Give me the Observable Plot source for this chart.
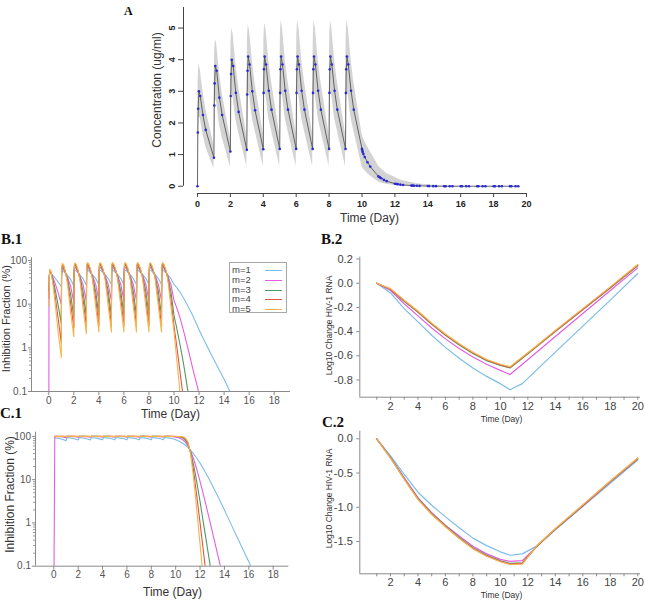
<!DOCTYPE html>
<html>
<head>
<meta charset="utf-8">
<script src="https://cdn.jsdelivr.net/npm/d3@7"></script>
<script src="https://cdn.jsdelivr.net/npm/@observablehq/plot@0.6"></script>
<style>
  body { margin: 0; background: #fff; }
  #fig { position: relative; width: 645px; height: 604px; overflow: hidden; background: #fff;
         font-family: "Liberation Sans", Arial, sans-serif; }
  #fig > svg { position: absolute; }
  .tag { position: absolute; font-family: "Liberation Serif", "Times New Roman", serif; font-weight: bold; line-height: 1; white-space: nowrap; color: #111; }
  .legend { position: absolute; border: 1px solid #a8a8a8; background: #fff; box-sizing: border-box; }
  .legend .row { position: absolute; left: 2px; height: 10px; width: 54px; font-size: 9.5px; line-height: 10px; color: #444; }
  .legend .swatch { position: absolute; left: 33px; top: 5px; width: 17px; height: 0; border-top: 1.3px solid; }
</style>
</head>
<body>
<div id="fig"></div>
<script>
// ---------- Panel A: concentration, median with 90% band ----------
const aTime = [
  0,0.021,0.042,0.083,0.167,0.333,0.5,
  1,1.021,1.042,1.083,1.167,1.333,1.5,
  2,2.021,2.042,2.083,2.167,2.333,2.5,
  3,3.021,3.042,3.083,3.167,3.333,3.5,
  4,4.021,4.042,4.083,4.167,4.333,4.5,
  5,5.021,5.042,5.083,5.167,5.333,5.5,
  6,6.021,6.042,6.083,6.167,6.333,6.5,
  7,7.021,7.042,7.083,7.167,7.333,7.5,
  8,8.021,8.042,8.083,8.167,8.333,8.5,
  9,9.021,9.042,9.083,9.167,9.333,9.5,
  10,10.021,10.042,10.083,10.167,10.333,10.5,
  11,11.083,11.167,11.333,11.5,
  12,12.083,12.167,12.333,12.5,
  13,13.083,13.167,13.333,13.5,
  14,14.083,14.333,14.5,
  15,15.083,15.333,15.5,
  16,16.083,16.333,16.5,
  17,17.083,17.333,17.5,
  18,18.083,18.333,18.5,
  19,19.083,19.333,19.5
];
const aMedian = [
  0,1.70,2.45,3.00,2.85,2.25,1.78,
  0.90,2.55,3.25,3.80,3.65,2.80,2.25,
  1.10,2.85,3.55,4.00,3.80,2.95,2.35,
  1.15,2.90,3.65,4.10,3.85,3.00,2.40,
  1.17,2.95,3.70,4.10,3.85,3.02,2.42,
  1.18,2.95,3.70,4.10,3.85,3.02,2.42,
  1.18,2.95,3.70,4.10,3.85,3.02,2.42,
  1.18,2.95,3.70,4.10,3.85,3.02,2.42,
  1.18,2.95,3.70,4.10,3.85,3.02,2.42,
  1.18,2.95,3.70,4.10,3.85,3.02,2.42,
  1.18,1.13,1.08,1.02,0.92,0.76,0.62,
  0.31,0.28,0.25,0.20,0.16,
  0.08,0.07,0.065,0.05,0.04,
  0.02,0.018,0.016,0.013,0.01,
  0.005,0.004,0.003,0.002,
  0.001,0.001,0.001,0.001,
  0,0,0,0,
  0,0,0,0,
  0,0,0,0,
  0,0,0,0
];
const aLower = [
  0,0.9,1.6,2.2,2.15,1.65,1.25,
  0.55,1.6,2.2,2.75,2.65,1.95,1.55,
  0.6,1.8,2.5,2.95,2.8,2.1,1.7,
  0.62,1.85,2.55,3.0,2.85,2.15,1.75,
  0.62,1.9,2.6,3.0,2.85,2.15,1.75,
  0.62,1.9,2.6,3.0,2.85,2.15,1.75,
  0.62,1.9,2.6,3.0,2.85,2.15,1.75,
  0.62,1.9,2.6,3.0,2.85,2.15,1.75,
  0.62,1.9,2.6,3.0,2.85,2.15,1.75,
  0.62,1.9,2.6,3.0,2.85,2.15,1.75,
  0.62,0.6,0.58,0.55,0.5,0.4,0.32,
  0.13,0.12,0.1,0.08,0.06,
  0.025,0.02,0.018,0.014,0.01,
  0.005,0.004,0.003,0.002,0.002,
  0,0,0,0,
  0,0,0,0,
  0,0,0,0,
  0,0,0,0,
  0,0,0,0,
  0,0,0,0
];
const aUpper = [
  0,2.6,3.4,3.85,3.7,3.0,2.45,
  1.3,3.5,4.25,4.65,4.5,3.6,2.95,
  1.5,3.75,4.6,5.0,4.8,3.85,3.15,
  1.6,3.85,4.7,5.1,4.9,3.95,3.25,
  1.65,3.9,4.75,5.15,4.95,4.0,3.3,
  1.65,3.9,4.8,5.25,5.0,4.0,3.3,
  1.65,3.9,4.8,5.25,5.0,4.0,3.3,
  1.65,3.9,4.8,5.25,5.0,4.0,3.3,
  1.65,3.9,4.8,5.25,5.0,4.0,3.3,
  1.65,3.9,4.8,5.25,5.0,4.0,3.3,
  1.65,1.6,1.58,1.52,1.42,1.25,1.1,
  0.65,0.6,0.55,0.47,0.4,
  0.28,0.26,0.24,0.2,0.17,
  0.12,0.11,0.1,0.08,0.07,
  0.045,0.04,0.03,0.025,
  0.015,0.012,0.01,0.008,
  0.006,0.005,0.004,0.003,
  0.002,0.002,0.001,0.001,
  0.001,0,0,0,
  0,0,0,0
];
const aXTicks = [0,2,4,6,8,10,12,14,16,18,20];
const aYTicks = [0,1,2,3,4,5];

// ---------- Shared series styling ----------
const seriesNames = ["m=1","m=2","m=3","m=4","m=5"];
const seriesColors = ["#7dbde8","#e35fe0","#4f9a62","#e0574a","#f6b44a"];

// ---------- Panel B.1: inhibition fraction (%) ----------
const b1Time = [
  0,0.021,0.042,0.083,0.167,0.333,0.5,0.75,
  1,1.021,1.042,1.083,1.167,1.333,1.5,1.75,
  2,2.021,2.042,2.083,2.167,2.333,2.5,2.75,
  3,3.021,3.042,3.083,3.167,3.333,3.5,3.75,
  4,4.021,4.042,4.083,4.167,4.333,4.5,4.75,
  5,5.021,5.042,5.083,5.167,5.333,5.5,5.75,
  6,6.021,6.042,6.083,6.167,6.333,6.5,6.75,
  7,7.021,7.042,7.083,7.167,7.333,7.5,7.75,
  8,8.021,8.042,8.083,8.167,8.333,8.5,8.75,
  9,9.021,9.042,9.083,9.167,9.333,9.5,9.75,
  10,10.083,10.167,10.333,10.5,10.75,11,11.25,11.5,12,12.5,13,13.5,14,14.5,15
];
const b1M1 = [
  null,38.6,47.6,52.6,51.4,45.5,39.7,32.0,
  25,48.6,54.6,58.5,57.5,50.9,45.5,36.8,
  26,51.4,56.8,59.7,58.5,52.2,46.5,37.8,
  27,51.8,57.5,60.3,58.8,52.6,47.1,38.4,
  28,52.2,57.8,60.3,58.8,52.8,47.3,38.5,
  28,52.2,57.8,60.3,58.8,52.8,47.3,38.5,
  28,52.2,57.8,60.3,58.8,52.8,47.3,38.5,
  28,52.2,57.8,60.3,58.8,52.8,47.3,38.5,
  28,52.2,57.8,60.3,58.8,52.8,47.3,38.5,
  28,52.2,57.8,60.3,58.8,52.8,47.3,38.5,
  28,26.5,25,21.5,18.5,14,10.3,7.5,5.4,2.6,1.3,0.68,0.36,0.19,0.095,0.05
];
const b1M2 = [
  0.01,28.4,45.2,55.2,52.7,41.0,30.3,18.1,
  10,47.1,59.2,66.5,64.6,51.8,41.0,25.3,
  11,52.7,63.4,68.7,66.5,54.4,43.1,27.0,
  11.5,53.6,64.6,69.8,67.0,55.2,44.1,27.9,
  12,54.4,65.3,69.8,67.0,55.6,44.6,28.2,
  12,54.4,65.3,69.8,67.0,55.6,44.6,28.2,
  12,54.4,65.3,69.8,67.0,55.6,44.6,28.2,
  12,54.4,65.3,69.8,67.0,55.6,44.6,28.2,
  12,54.4,65.3,69.8,67.0,55.6,44.6,28.2,
  12,54.4,65.3,69.8,67.0,55.6,44.6,28.2,
  12,10.5,9.0,6.6,4.6,2.5,1.3,0.66,0.33,0.09,0.022,null,null,null,null,null
];
const b1M3 = [
  null,20.0,42.8,57.8,54.1,36.7,22.3,9.4,
  3.6,45.7,63.6,73.6,71.2,52.7,36.7,16.4,
  5.0,54.1,69.4,76.5,73.6,56.6,39.7,18.3,
  5.3,55.3,71.2,77.8,74.4,57.8,41.3,19.4,
  5.5,56.6,72.0,77.8,74.4,58.3,41.9,19.7,
  5.5,56.6,72.0,77.8,74.4,58.3,41.9,19.7,
  5.5,56.6,72.0,77.8,74.4,58.3,41.9,19.7,
  5.5,56.6,72.0,77.8,74.4,58.3,41.9,19.7,
  5.5,56.6,72.0,77.8,74.4,58.3,41.9,19.7,
  5.5,56.6,72.0,77.8,74.4,58.3,41.9,19.7,
  5.5,4.2,3.3,1.9,1.1,0.45,0.16,0.055,null,null,null,null,null,null,null,null
];
const b1M4 = [
  null,13.6,40.4,60.4,55.4,32.5,15.9,4.7,
  1.3,44.3,67.7,79.7,77.0,53.6,32.5,10.3,
  2.9,55.4,74.9,82.8,79.7,58.8,36.5,12.0,
  3.1,57.1,77.0,84.2,80.5,60.4,38.4,13.0,
  3.2,58.8,77.9,84.2,80.5,61.0,39.2,13.3,
  3.2,58.8,77.9,84.2,80.5,61.0,39.2,13.3,
  3.2,58.8,77.9,84.2,80.5,61.0,39.2,13.3,
  3.2,58.8,77.9,84.2,80.5,61.0,39.2,13.3,
  3.2,58.8,77.9,84.2,80.5,61.0,39.2,13.3,
  3.2,58.8,77.9,84.2,80.5,61.0,39.2,13.3,
  3.2,2.1,1.4,0.6,0.25,0.07,null,null,null,null,null,null,null,null,null,null
];
const b1M5 = [
  null,9.0,38.1,62.9,56.7,28.7,11.1,2.25,
  0.6,42.9,71.6,84.7,81.9,54.5,28.7,6.2,
  1.8,56.7,79.7,87.7,84.7,60.9,33.3,7.6,
  2.1,58.8,81.9,89.0,85.5,62.9,35.7,8.5,
  2.3,60.9,82.9,89.0,85.5,63.7,36.7,8.8,
  2.3,60.9,82.9,89.0,85.5,63.7,36.7,8.8,
  2.3,60.9,82.9,89.0,85.5,63.7,36.7,8.8,
  2.3,60.9,82.9,89.0,85.5,63.7,36.7,8.8,
  2.3,60.9,82.9,89.0,85.5,63.7,36.7,8.8,
  2.3,60.9,82.9,89.0,85.5,63.7,36.7,8.8,
  2.3,1.3,0.75,0.25,0.08,null,null,null,null,null,null,null,null,null,null,null
];

// ---------- Panel C.1: inhibition fraction (%) ----------
const c1Time = [
  0,0.083,0.5,0.75, 1,1.083,1.5,1.75, 2,2.083,2.5,2.75, 3,3.083,3.5,3.75,
  4,4.083,4.5,4.75, 5,5.083,5.5,5.75, 6,6.083,6.5,6.75, 7,7.083,7.5,7.75,
  8,8.083,8.5,8.75, 9,9.083,9.5,9.75,
  10,10.25,10.5,10.75,11,11.25,11.5,11.75,12,12.25,12.5,12.75,13,13.5,14,14.5,15,15.5,16,16.5
];
const c1M1 = [
  null,92.7,88.2,84.4, 79.2,94.2,90.5,86.9, 82.3,94.4,90.9,87.4, 83.0,94.6,91.1,87.7,
  83.3,94.6,91.1,87.8, 83.3,94.6,91.1,87.8, 83.3,94.6,91.1,87.8, 83.3,94.6,91.1,87.8,
  83.3,94.6,91.1,87.8, 83.3,94.6,91.1,87.8,
  83.3,78.0,71.5,64.0,55.8,47.1,38.7,30.9,24.1,18.3,13.7,10.2,7.4,3.9,2.0,0.99,0.5,0.25,0.127,0.063
];
const c1M2 = [
  0.01,99.4,98.3,96.7, 93.5,99.6,98.9,97.8, 95.6,99.7,99.0,98.0, 96.0,99.7,99.1,98.1,
  96.2,99.7,99.1,98.1, 96.2,99.7,99.1,98.1, 96.2,99.7,99.1,98.1, 96.2,99.7,99.1,98.1,
  96.2,99.7,99.1,98.1, 96.2,99.7,99.1,98.1,
  96.2,92.6,86.3,76.0,61.4,44.2,28.4,16.7,9.1,4.8,2.5,1.26,0.64,0.16,0.04,null,null,null,null,null
];
const c1M3 = [
  null,99.9,99.8,99.4, 98.2,100,99.9,99.7, 99.0,100,99.9,99.7, 99.1,100,99.9,99.7,
  99.2,100,99.9,99.7, 99.2,100,99.9,99.7, 99.2,100,99.9,99.7, 99.2,100,99.9,99.7,
  99.2,100,99.9,99.7, 99.2,100,99.9,99.7,
  99.2,97.8,94.1,84.9,66.7,41.3,20.0,8.2,3.1,1.1,0.4,0.144,0.051,null,null,null,null,null,null,null
];
const c1M4 = [
  null,100,100,99.9, 99.5,100,100,99.9, 99.8,100,100,100, 99.8,100,100,100,
  99.8,100,100,100, 99.8,100,100,100, 99.8,100,100,100, 99.8,100,100,100,
  99.8,100,100,100, 99.8,100,100,100,
  99.8,99.4,97.5,90.9,71.6,38.5,13.6,3.8,1.0,0.25,0.064,null,null,null,null,null,null,null,null,null
];
const c1M5 = [
  null,100,100,100, 99.9,100,100,100, 100,100,100,100, 100,100,100,100,
  100,100,100,100, 100,100,100,100, 100,100,100,100, 100,100,100,100,
  100,100,100,100, 100,100,100,100,
  100,99.8,99.0,94.7,76.1,35.8,9.0,1.75,0.32,0.056,null,null,null,null,null,null,null,null,null,null
];

// ---------- Panels B.2 / C.2: log10 change in HIV-1 RNA ----------
const rnaTime = [1,2,3,4,5,6,7,8,9,10,10.7,11.6,12.7,14,16,18,20];
const b2M1 = [0,-0.08,-0.21,-0.32,-0.43,-0.53,-0.62,-0.70,-0.77,-0.83,-0.88,-0.83,-0.71,-0.57,-0.355,-0.14,0.08];
const b2M2 = [0,-0.06,-0.17,-0.27,-0.37,-0.46,-0.54,-0.61,-0.67,-0.72,-0.755,-0.67,-0.565,-0.44,-0.25,-0.06,0.127];
const b2M3 = [0,-0.05,-0.15,-0.24,-0.34,-0.43,-0.51,-0.58,-0.64,-0.68,-0.70,-0.62,-0.52,-0.40,-0.22,-0.04,0.145];
const b2M4 = [0,-0.05,-0.145,-0.235,-0.335,-0.425,-0.505,-0.575,-0.635,-0.675,-0.695,-0.615,-0.515,-0.395,-0.215,-0.035,0.15];
const b2M5 = [0,-0.045,-0.14,-0.23,-0.33,-0.42,-0.50,-0.57,-0.63,-0.67,-0.69,-0.61,-0.51,-0.39,-0.21,-0.03,0.155];
const c2M1 = [0,-0.25,-0.52,-0.78,-0.97,-1.14,-1.30,-1.45,-1.56,-1.65,-1.70,-1.68,-1.56,-1.33,-0.99,-0.65,-0.31];
const c2M2 = [0,-0.27,-0.57,-0.86,-1.08,-1.26,-1.42,-1.57,-1.68,-1.76,-1.79,-1.78,-1.56,-1.32,-0.98,-0.63,-0.295];
const c2M3 = [0,-0.27,-0.58,-0.87,-1.09,-1.27,-1.44,-1.59,-1.70,-1.78,-1.82,-1.81,-1.56,-1.32,-0.975,-0.625,-0.29];
const c2M4 = [0,-0.28,-0.585,-0.88,-1.10,-1.28,-1.45,-1.60,-1.71,-1.79,-1.83,-1.82,-1.555,-1.315,-0.97,-0.62,-0.285];
const c2M5 = [0,-0.28,-0.59,-0.885,-1.105,-1.285,-1.455,-1.605,-1.715,-1.795,-1.835,-1.83,-1.55,-1.31,-0.965,-0.615,-0.28];

// ---------- Tick positions ----------
const inhibDayTicks = [0,2,4,6,8,10,12,14,16,18];
const inhibTicks = [0.1,1,10,100];
const inhibMinorTicks = [0.2,0.3,0.4,0.5,0.6,0.7,0.8,0.9,2,3,4,5,6,7,8,9,20,30,40,50,60,70,80,90];
const rnaDayTicks = [2,4,6,8,10,12,14,16,18,20];
const rnaMinorDays = [1,3,5,7,9,11,13,15,17,19];
const b2YTicks = [0.2,0,-0.2,-0.4,-0.6,-0.8];
const c2YTicks = [0,-0.5,-1,-1.5];

// ---------- Helpers ----------
function longRows(time, series) {
  const rows = [];
  series.forEach((vals, k) => vals.forEach((v, i) => {
    if (v != null) rows.push({t: time[i], v, m: seriesNames[k]});
  }));
  return rows;
}
const baseStyle = {fontFamily: "'Liberation Sans', Arial, sans-serif", fontSize: "10px", background: "transparent", overflow: "visible"};
const seriesColor = {domain: seriesNames, range: seriesColors};
const centered = {textAnchor: "middle", lineAnchor: "middle"};
const fig = document.getElementById("fig");
function place(svg, left, top) {
  svg.style.left = left + "px";
  svg.style.top = top + "px";
  fig.appendChild(svg);
}
function tag(text, left, top, size) {
  const d = document.createElement("div");
  d.className = "tag";
  d.textContent = text;
  d.style.left = left + "px";
  d.style.top = top + "px";
  d.style.fontSize = size + "px";
  fig.appendChild(d);
}

// ---------- Panel A ----------
const aRows = aTime.map((t, i) => ({t, med: aMedian[i], lo: aLower[i], hi: aUpper[i]}));
place(Plot.plot({
  width: 420, height: 230,
  marginLeft: 63, marginRight: 14, marginTop: 7, marginBottom: 37,
  x: {domain: [-0.85, 20], axis: null},
  y: {domain: [-0.23, 5.65], axis: null},
  style: {...baseStyle, color: "#222"},
  marks: [
    Plot.areaY(aRows, {x: "t", y1: "lo", y2: "hi", fill: "#d3d3d3"}),
    Plot.line(aRows, {x: "t", y: "med", stroke: "#555", strokeWidth: 0.9}),
    Plot.dot(aRows, {x: "t", y: "med", r: 1.3, fill: "#2a2ad2", stroke: null}),
    Plot.ruleX([-0.85], {y1: () => 0, y2: () => 5.65, stroke: "#444"}),
    Plot.ruleY([-0.23], {x1: () => 0, x2: () => 20, stroke: "#444"}),
    Plot.axisX({ticks: aXTicks, tickSize: 4, tickPadding: 3, fontWeight: "bold", fontSize: 9, stroke: "#444", fill: "#222", label: null}),
    Plot.axisY({ticks: aYTicks, tickSize: 5, tickFormat: () => "", stroke: "#444", label: null}),
    Plot.text(aYTicks, {x: () => -0.85, y: d => d, text: d => String(d), rotate: -90, dx: -11, fontWeight: "bold", fontSize: 9, fill: "#222", ...centered}),
    Plot.text(["Concentration (ug/ml)"], {frameAnchor: "left", text: d => d, dx: -26, dy: -10.5, rotate: -90, fontSize: 12, fill: "#333", ...centered}),
    Plot.text(["Time (Day)"], {frameAnchor: "bottom", text: d => d, dx: 14.5, dy: 25, fontSize: 12, fill: "#333", ...centered})
  ]
}), 120, 0);

// ---------- Panel B.1 ----------
const b1Rows = longRows(b1Time, [b1M1, b1M2, b1M3, b1M4, b1M5]);
place(Plot.plot({
  width: 300, height: 180,
  marginLeft: 31, marginRight: 10, marginTop: 12.3, marginBottom: 34,
  x: {domain: [-1.38, 19.3], axis: null},
  y: {type: "log", domain: [0.1, 115], axis: null},
  color: seriesColor,
  style: {...baseStyle, color: "#555"},
  marks: [
    Plot.line(b1Rows, {x: "t", y: "v", z: "m", stroke: "m", strokeWidth: 1.1, clip: true}),
    Plot.ruleX([-1.38], {stroke: "#8a8a8a"}),
    Plot.ruleY([0.1], {stroke: "#8a8a8a"}),
    Plot.axisX({ticks: inhibDayTicks, tickSize: 4, tickPadding: 1, stroke: "#8a8a8a", fill: "#555", fontSize: 10, label: null}),
    Plot.axisY({ticks: inhibTicks, tickSize: 3, tickPadding: 1.5, tickFormat: d => String(d), stroke: "#8a8a8a", fill: "#555", fontSize: 10, label: null}),
    Plot.axisY({ticks: inhibMinorTicks, tickSize: 2, tickFormat: () => "", stroke: "#9a9a9a", label: null}),
    Plot.text(["Inhibition Fraction (%)"], {frameAnchor: "left", text: d => d, dx: -25.5, dy: -6, rotate: -90, fontSize: 11, fill: "#333", ...centered}),
    Plot.text(["Time (Day)"], {frameAnchor: "bottom", text: d => d, dx: 9.5, dy: 23, fontSize: 12, fill: "#333", ...centered})
  ]
}), 0, 245);

// Legend for B.1
const legend = document.createElement("div");
legend.className = "legend";
Object.assign(legend.style, {left: "229px", top: "262px", width: "58px", height: "51px"});
seriesNames.forEach((name, i) => {
  const row = document.createElement("div");
  row.className = "row";
  row.style.top = (2 + i * 9.8) + "px";
  row.textContent = name;
  const sw = document.createElement("div");
  sw.className = "swatch";
  sw.style.borderTopColor = seriesColors[i];
  row.appendChild(sw);
  legend.appendChild(row);
});

// ---------- Panel C.1 ----------
const c1Rows = longRows(c1Time, [c1M1, c1M2, c1M3, c1M4, c1M5]);
place(Plot.plot({
  width: 300, height: 179,
  marginLeft: 35, marginRight: 11.7, marginTop: 6.7, marginBottom: 38.3,
  x: {domain: [-1.5, 19.28], axis: null},
  y: {type: "log", domain: [0.1, 125], axis: null},
  color: seriesColor,
  style: {...baseStyle, color: "#555"},
  marks: [
    Plot.line(c1Rows, {x: "t", y: "v", z: "m", stroke: "m", strokeWidth: 1.1, clip: true}),
    Plot.ruleX([-1.5], {stroke: "#8a8a8a"}),
    Plot.ruleY([0.1], {stroke: "#8a8a8a"}),
    Plot.axisX({ticks: inhibDayTicks, tickSize: 4, tickPadding: 1, stroke: "#8a8a8a", fill: "#555", fontSize: 10, label: null}),
    Plot.axisY({ticks: inhibTicks, tickSize: 3, tickPadding: 1.5, tickFormat: d => String(d), stroke: "#8a8a8a", fill: "#555", fontSize: 10, label: null}),
    Plot.axisY({ticks: inhibMinorTicks, tickSize: 2, tickFormat: () => "", stroke: "#9a9a9a", label: null}),
    Plot.text(["Inhibition Fraction (%)"], {frameAnchor: "left", text: d => d, dx: -25, dy: -4.7, rotate: -90, fontSize: 12, fill: "#333", ...centered}),
    Plot.text(["Time (Day)"], {frameAnchor: "bottom", text: d => d, dx: 10.3, dy: 26, fontSize: 12, fill: "#333", ...centered})
  ]
}), 0, 425);

// ---------- Panel B.2 ----------
const b2Rows = longRows(rnaTime, [b2M1, b2M2, b2M3, b2M4, b2M5]);
place(Plot.plot({
  width: 325, height: 180,
  marginLeft: 39.3, marginRight: 5, marginTop: 11.7, marginBottom: 28.3,
  x: {domain: [-0.234, 20.2], axis: null},
  y: {domain: [-0.942, 0.215], axis: null},
  color: seriesColor,
  style: {...baseStyle, color: "#444"},
  marks: [
    Plot.line(b2Rows, {x: "t", y: "v", z: "m", stroke: "m", strokeWidth: 1.2}),
    Plot.ruleX([-0.234], {stroke: "#8a8a8a"}),
    Plot.ruleY([-0.942], {stroke: "#8a8a8a"}),
    Plot.axisX({ticks: rnaDayTicks, tickSize: 3, tickPadding: 1.5, stroke: "#8a8a8a", fill: "#444", fontSize: 11, label: null}),
    Plot.axisX({ticks: rnaMinorDays, tickSize: 3, tickFormat: () => "", stroke: "#8a8a8a", label: null}),
    Plot.axisY({ticks: b2YTicks, tickSize: 3, tickPadding: 4, tickFormat: d => d.toFixed(1), stroke: "#8a8a8a", fill: "#444", fontSize: 11, label: null}),
    Plot.text(["Log10 Change HIV-1 RNA"], {frameAnchor: "left", text: d => d, dx: -30.3, dy: -1.7, rotate: -90, fontSize: 8.5, fill: "#333", ...centered}),
    Plot.text(["Time (Day)"], {frameAnchor: "bottom", text: d => d, dx: 1.4, dy: 22.3, fontSize: 8.5, fill: "#333", ...centered})
  ]
}), 320, 245);

// ---------- Panel C.2 ----------
const c2Rows = longRows(rnaTime, [c2M1, c2M2, c2M3, c2M4, c2M5]);
place(Plot.plot({
  width: 325, height: 179,
  marginLeft: 39.3, marginRight: 5, marginTop: 5.7, marginBottom: 30.7,
  x: {domain: [-0.234, 20.2], axis: null},
  y: {domain: [-1.971, 0.111], axis: null},
  color: seriesColor,
  style: {...baseStyle, color: "#444"},
  marks: [
    Plot.line(c2Rows, {x: "t", y: "v", z: "m", stroke: "m", strokeWidth: 1.2}),
    Plot.ruleX([-0.234], {stroke: "#8a8a8a"}),
    Plot.ruleY([-1.971], {stroke: "#8a8a8a"}),
    Plot.axisX({ticks: rnaDayTicks, tickSize: 3, tickPadding: 1, stroke: "#8a8a8a", fill: "#444", fontSize: 11, label: null}),
    Plot.axisX({ticks: rnaMinorDays, tickSize: 3, tickFormat: () => "", stroke: "#8a8a8a", label: null}),
    Plot.axisY({ticks: c2YTicks, tickSize: 3, tickPadding: 4, tickFormat: d => d.toFixed(1), stroke: "#8a8a8a", fill: "#444", fontSize: 11, label: null}),
    Plot.text(["Log10 Change HIV-1 RNA"], {frameAnchor: "left", text: d => d, dx: -30.3, dy: -4, rotate: -90, fontSize: 8.5, fill: "#333", ...centered}),
    Plot.text(["Time (Day)"], {frameAnchor: "bottom", text: d => d, dx: 1.4, dy: 21.7, fontSize: 8.5, fill: "#333", ...centered})
  ]
}), 320, 425);

fig.appendChild(legend);

// Panel tags
tag("A", 124, 5, 12);
tag("B.1", 1, 232.4, 15);
tag("C.1", 0, 406.4, 15);
tag("B.2", 321, 232.4, 15);
tag("C.2", 322, 415.4, 15);
</script>
</body>
</html>
